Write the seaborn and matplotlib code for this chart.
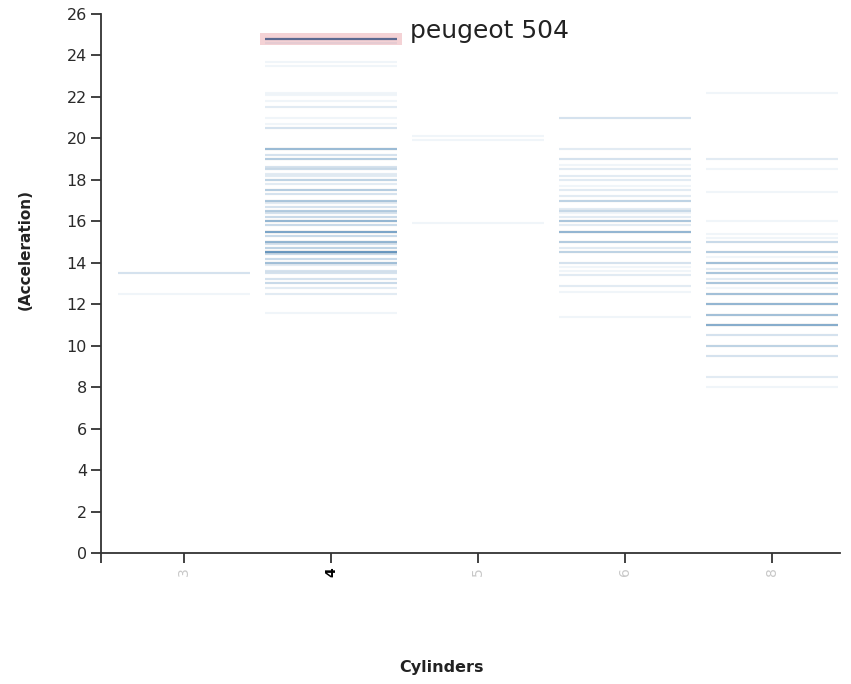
import numpy as np
import pandas as pd
import matplotlib
matplotlib.use("Agg")
import matplotlib.pyplot as plt
from matplotlib.patches import Rectangle
import seaborn as sns

# ---------------- data ----------------
cyl_order = ["3", "4", "5", "6", "8"]

acc3_vals = [13.5, 12.5]
acc3_cnt = [3, 1]

acc4_vals = [24.8, 24.6, 23.7, 23.5, 22.2, 22.1, 21.8, 21.5, 21.0, 20.7, 20.5,
             19.5, 19.2, 19.0, 18.6, 18.5, 18.3, 18.2, 18.0, 17.8, 17.5, 17.3,
             17.0, 16.9, 16.7, 16.5, 16.4, 16.2, 16.0, 15.8, 15.5, 15.3, 15.0,
             14.9, 14.7, 14.5, 14.4, 14.2, 14.0, 13.9, 13.6, 13.5, 13.2, 13.0,
             12.8, 12.5, 11.6]
acc4_cnt = [1, 1, 1, 1, 1, 1, 1, 2, 1, 1, 3,
            9, 3, 6, 3, 4, 2, 2, 5, 2, 6, 3,
            7, 2, 3, 6, 3, 4, 10, 4, 14, 4, 10,
            3, 5, 18, 4, 4, 8, 2, 3, 3, 3, 4,
            2, 2, 1]

acc5_vals = [20.1, 19.9, 15.9]
acc5_cnt = [1, 1, 1]

acc6_vals = [21.0, 19.5, 19.0, 18.7, 18.5, 18.2, 18.0, 17.7, 17.5, 17.2, 17.0,
             16.6, 16.5, 16.4, 16.2, 16.0, 15.8, 15.5, 15.0, 14.7, 14.5, 14.0,
             13.8, 13.6, 13.4, 12.9, 12.6, 11.4]
acc6_cnt = [3, 2, 3, 1, 2, 2, 2, 1, 2, 2, 5,
            2, 4, 1, 2, 7, 2, 10, 6, 2, 5, 3,
            1, 1, 2, 2, 1, 1]

acc8_vals = [22.2, 19.0, 18.5, 17.4, 16.0, 15.4, 15.2, 15.0, 14.5, 14.3, 14.0,
             13.7, 13.5, 13.2, 13.0, 12.8, 12.5, 12.0, 11.5, 11.0, 10.5, 10.0,
             9.5, 8.5, 8.0]
acc8_cnt = [1, 2, 1, 1, 1, 1, 1, 4, 6, 1, 8,
            2, 7, 2, 7, 1, 8, 10, 8, 12, 3, 5,
            3, 2, 1]

highlight_name = "peugeot 504"
highlight_cyl = "4"
highlight_acc = 24.8

y_ticks = list(range(0, 27, 2))

# ---------------- build table ----------------
groups = {"3": (acc3_vals, acc3_cnt), "4": (acc4_vals, acc4_cnt),
          "5": (acc5_vals, acc5_cnt), "6": (acc6_vals, acc6_cnt),
          "8": (acc8_vals, acc8_cnt)}
rows = []
for c, (vals, cnts) in groups.items():
    for v, n in zip(vals, cnts):
        rows += [(c, v)] * n
df = pd.DataFrame(rows, columns=["Cylinders", "Acceleration"])

# ---------------- plot ----------------
W, H = 851, 684
fig = plt.figure(figsize=(W / 100, H / 100), dpi=100)
ax_l, ax_r, ax_t, ax_b = 101, 840, 14, 553
ax = fig.add_axes([ax_l / W, 1 - ax_b / H, (ax_r - ax_l) / W, (ax_b - ax_t) / H])

base = "#4682b4"
sns.stripplot(data=df, x="Cylinders", y="Acceleration", order=cyl_order,
              jitter=False, marker="_", size=95, linewidth=1.5,
              color=base, edgecolor=base, alpha=0.08, ax=ax, zorder=3)

# highlighted selection
hx = cyl_order.index(highlight_cyl)
ax.add_patch(Rectangle((hx - 0.483, highlight_acc - 0.29), 0.966, 0.55,
                       facecolor="#f4d2d5", edgecolor="none", zorder=2))
ax.hlines(highlight_acc, hx - 0.449, hx + 0.449, color="#5a6890", lw=1.6, zorder=4)
ax.text(hx + 0.535, highlight_acc + 0.38, highlight_name, fontsize=18,
        ha="left", va="center", color="#222222", zorder=5)

xl = -0.565
ax.set_xlim(xl, 4.46)
ax.set_ylim(0, 26)
ax.set_yticks(y_ticks)
ax.set_yticklabels([str(t) for t in y_ticks], fontsize=11.5, color="#2a2a2a")

ax.set_xticks([xl] + list(range(len(cyl_order))))
ax.set_xticklabels([""] + cyl_order, rotation=90, fontsize=10)
for lab in ax.get_xticklabels():
    if lab.get_text() == highlight_cyl:
        lab.set_color("black")
        lab.set_fontweight("bold")
    else:
        lab.set_color("#c8c8c8")

for s in ["top", "right"]:
    ax.spines[s].set_visible(False)
for s in ["left", "bottom"]:
    ax.spines[s].set_color("#333333")
    ax.spines[s].set_linewidth(1.3)
ax.tick_params(axis="both", length=7, width=1.3, color="#333333", pad=3)
ax.grid(False)
ax.set_facecolor("white")

ax.set_xlabel("Cylinders", fontsize=11.5, fontweight="bold", color="#222222")
ax.xaxis.set_label_coords((441 - ax_l) / (ax_r - ax_l), -(660 - ax_b) / (ax_b - ax_t))
ax.set_ylabel("(Acceleration)", fontsize=11, fontweight="bold", color="#222222")
ax.yaxis.set_label_coords(-(101 - 33) / (ax_r - ax_l), (ax_b - 250) / (ax_b - ax_t))

fig.savefig("out.png", dpi=100, facecolor="white")
